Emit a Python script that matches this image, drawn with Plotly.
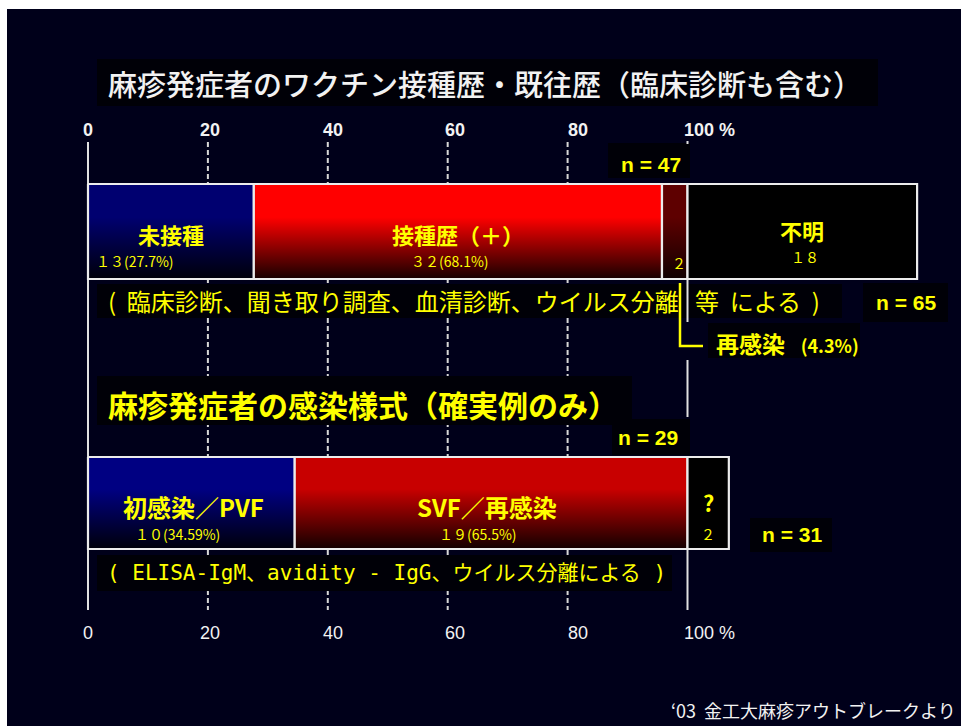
import plotly.graph_objects as go

# ---------------- data ----------------
# Vaccination / history of measles cases (clinical diagnosis included)
top_names = ["未接種", "接種歴（＋）", "", "不明"]
top_counts = [13, 32, 2, 18]
top_sub = ["１３(27.7%)", "３２(68.1%)", "２", "１８"]
top_total = 47          # percentages refer to cases with known history
top_total_all = 65

# Infection mode (confirmed cases only)
bot_names = ["初感染／PVF", "SVF／再感染", "?"]
bot_counts = [10, 19, 2]
bot_sub = ["１０(34.59%)", "１９(65.5%)", "２"]
bot_total = 29
bot_total_all = 31

reinfect_pct = 4.3

tick_vals = [0, 20, 40, 60, 80, 100]
tick_text = ["0", "20", "40", "60", "80", "100 %"]

# ---------------- page geometry ----------------
W, H = 961, 726
ML, MT = 7, 9                 # white paper edge around the slide
X0PX, XSCALE = 88.0, 5.995    # pixel of 0 %, pixels per percent


def X(px):
    """pixel column -> axis value (percent)"""
    return (px - X0PX) / XSCALE


BG = "#00001a"
MASK = "#000007"
YEL = "#ffff00"
WHITE = "#f2f2f2"
CJK = "Noto Sans CJK JP"
NB = "\u00a0"

top_grad = [("#000070", "#00000a"), ("#ff0000", "#160000"),
            ("#5e0000", "#100000"), ("#000000", "#000000")]
bot_grad = [("#000082", "#00000a"), ("#c80000", "#120000"),
            ("#000000", "#000000")]

TOP_Y = (184, 279)
BOT_Y = (457, 549)

fig = go.Figure()


def draw_bar(counts, total, grads, band):
    pcts = [c / total * 100 for c in counts]
    y0, y1 = band
    left = 0.0
    spans = []
    for p, (c_top, c_bot) in zip(pcts, grads):
        right = left + p
        fig.add_trace(go.Scatter(
            x=[left, right, right, left, left],
            y=[y0, y0, y1, y1, y0],
            mode="lines", fill="toself",
            line=dict(color="#ececec", width=2.2),
            fillgradient=dict(type="vertical", start=y0, stop=y1,
                              colorscale=[[0, c_top], [0.35, c_top], [1, c_bot]]),
            hoverinfo="skip", showlegend=False))
        spans.append((left, right))
        left = right
    return spans


shapes = []
annotations = []

# grid: dashed lines at 20..80, solid line at 0
for v in tick_vals[1:-1]:
    shapes.append(dict(type="line", xref="x", yref="y", x0=v, x1=v, y0=142, y1=610,
                       line=dict(color="#d6d6d6", width=2, dash="5px,3px"), layer="below"))
shapes.append(dict(type="line", xref="x", yref="y", x0=0, x1=0, y0=142, y1=610,
                   line=dict(color="#e0e0e0", width=2), layer="below"))

# dark boxes behind the text blocks
mask_boxes = [
    (97, 878, 59, 106), (608, 690, 143, 178), (97, 842, 284, 318),
    (863, 948, 283, 322), (708, 860, 323, 358), (97, 632, 376, 425),
    (612, 690, 419, 455), (750, 832, 518, 552), (97, 672, 555, 591),
]
for a, b, c, d in mask_boxes:
    shapes.append(dict(type="rect", xref="x", yref="y", x0=X(a), x1=X(b), y0=c, y1=d,
                       fillcolor=MASK, line=dict(width=0), layer="below"))

# solid 100 % line pieces
for c, d in [(141, 144), (279, 322), (360, 417), (549, 610)]:
    shapes.append(dict(type="line", xref="x", yref="y", x0=100, x1=100, y0=c, y1=d,
                       line=dict(color="#e0e0e0", width=2), layer="below"))

top_spans = draw_bar(top_counts, top_total, top_grad, TOP_Y)
bot_spans = draw_bar(bot_counts, bot_total, bot_grad, BOT_Y)


def txt(x, y, text, size, color=YEL, family=CJK, weight="bold", anchor="center", xshift=0):
    annotations.append(dict(x=x, y=y, xref="x", yref="y", text=text, showarrow=False,
                            xanchor=anchor, yanchor="middle", xshift=xshift,
                            font=dict(family=family, size=size, color=color, weight=weight)))


# titles
txt(X(106), 83, "麻疹発症者のワクチン接種歴・既往歴（臨床診断も含む）", 29,
    color=WHITE, weight=500, anchor="left")
txt(X(106), 404, "麻疹発症者の感染様式（確実例のみ）", 30, anchor="left")

# tick labels, top and bottom
for v, t in zip(tick_vals, tick_text):
    anc = "left" if t.endswith("%") else "center"
    sh = -6 if anc == "left" else round(v * 0.12)
    txt(v, 130, t, 18, color=WHITE, family="Liberation Sans", anchor=anc, xshift=sh)
    txt(v, 633, t, 18, color=WHITE, family="Liberation Sans", weight="normal",
        anchor=anc, xshift=sh)

# labels inside the upper bar
top_sub_shift = [-36, -8, 4, 3]
top_sub_y = [261, 261, 263, 257]
top_name_y = [234, 234, 234, 230]
for (l, r), name, sub, sh, sy, ny in zip(top_spans, top_names, top_sub,
                                          top_sub_shift, top_sub_y, top_name_y):
    cx = (l + r) / 2
    if name:
        txt(cx, ny, name, 22)
    txt(cx, sy, sub, 14, family="Liberation Sans Narrow, " + CJK, weight="normal", xshift=sh)

# labels inside the lower bar
bot_name_shift = [2, -4, 0]
bot_sub_shift = [-14, -13, 0]
for (l, r), name, sub, nsh, ssh in zip(bot_spans, bot_names, bot_sub,
                                        bot_name_shift, bot_sub_shift):
    cx = (l + r) / 2
    txt(cx, 506 if name != "?" else 502, name, 24 if name != "?" else 22,
        family="Liberation Sans Narrow, " + CJK, xshift=nsh)
    txt(cx, 534, sub, 14, family="Liberation Sans Narrow, " + CJK, weight="normal", xshift=ssh)

# counts
txt(100, 164, f"n = {top_total}", 21, family="Liberation Sans", anchor="right", xshift=-5)
txt(X(938), 302, f"n = {top_total_all}", 21, family="Liberation Sans", anchor="right")
txt(100, 437, f"n = {bot_total}", 21, family="Liberation Sans", anchor="right", xshift=-8)
txt(X(824), 534, f"n = {bot_total_all}", 21, family="Liberation Sans", anchor="right")

# method notes
txt(X(106), 300,
    f"({NB * 2}臨床診断、聞き取り調査、血清診断、ウイルス分離{NB * 3}等{NB * 2}による{NB * 2})",
    24, anchor="left", weight="normal")
txt(X(105), 573, "( ELISA-IgM、avidity - IgG、ウイルス分離による )", 21,
    family="DejaVu Sans Mono, " + CJK, anchor="left", weight="normal")

# reinfection bracket and note
bx = X(680)
shapes.append(dict(type="path", xref="x", yref="y",
                   path=f"M {bx},283 L {bx},346 L {X(703)},346",
                   line=dict(color=YEL, width=2.5), layer="above"))
txt(X(714), 343,
    f"再感染{NB * 3}<span style='font-size:18px'>({reinfect_pct}%)</span>", 23,
    anchor="left")

# source
txt(X(958), 710, "‘03  金工大麻疹アウトブレークより", 18, color=WHITE,
    anchor="right", weight="normal")

fig.update_layout(
    width=W, height=H,
    margin=dict(l=ML, r=0, t=MT, b=0),
    paper_bgcolor="white", plot_bgcolor=BG,
    xaxis=dict(range=[X(ML), X(W)], visible=False, fixedrange=True),
    yaxis=dict(range=[H, MT], visible=False, fixedrange=True),
    shapes=shapes, annotations=annotations, showlegend=False,
)

fig.write_html("out.html")
